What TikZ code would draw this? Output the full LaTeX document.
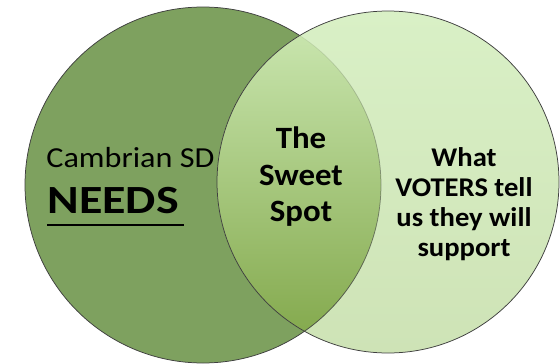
\documentclass[tikz,border=0pt]{standalone}
\usepackage{fontspec}
\setmainfont{Carlito}
\usetikzlibrary{fadings}

\definecolor{needsgreen}{HTML}{7EA15F}
\definecolor{votertop}{HTML}{D9F0C6}
\definecolor{voterbot}{HTML}{CEE3B6}
\definecolor{spottop}{HTML}{CDE9B4}
\definecolor{spotbot}{HTML}{80A648}
\definecolor{rim}{HTML}{3F3F3F}

\begin{document}
\begin{tikzpicture}[x=1pt, y=-1pt, line width=0.75pt]

  \useasboundingbox (0,0) rectangle (560,364);

  \begin{scope}[xshift=0.0cm, yshift=0.0cm]

  \draw (203,185) node[name=c1, inner sep=0pt] {};
  \draw (388,182) node[name=c2, inner sep=0pt] {};

  % left circle
  \fill [needsgreen] (c1) circle [radius=178pt];
  \draw [rim] (c1) circle [radius=178pt];

  % right circle
  \shade [top color=votertop, bottom color=voterbot] (c2) circle [radius=171pt];

  % overlap
  \begin{scope}
    \clip (c1) circle [radius=178pt];
    \shade [top color=spottop, bottom color=spotbot] (c2) circle [radius=171pt];
  \end{scope}
  \begin{scope}
    \clip (c2) circle [radius=171pt];
    \draw [rim, path fading=north] (c1) circle [radius=178pt];
  \end{scope}

  \draw [rim] (c2) circle [radius=171pt];

  %\draw (c1) node {$+$};
  \draw (46,167) node[name=t1, anchor=base west, inner sep=0pt, xscale=1.11, transform shape,
    font=\fontsize{29}{34}\selectfont] {Cambrian SD};
  \draw (47,213) node[name=t2, anchor=base west, inner sep=0pt, xscale=1.2, transform shape,
    font=\fontsize{40}{46}\bfseries\selectfont] {NEEDS};
  \draw [line width=2pt] ([yshift=-12pt]t2.base west) -- ([xshift=5pt, yshift=-12pt]t2.base east);

  \draw (301,177) node[name=t3, align=center, inner sep=0pt, xscale=1.06, transform shape,
    font=\fontsize{31}{36.5}\bfseries\selectfont] {The\\Sweet\\Spot};
  \draw (464,204) node[name=t4, align=center, inner sep=0pt, xscale=1.06, transform shape,
    font=\fontsize{27}{30}\bfseries\selectfont] {What\\VOTERS tell\\us they will\\support};

  \end{scope}

\end{tikzpicture}
\end{document}
